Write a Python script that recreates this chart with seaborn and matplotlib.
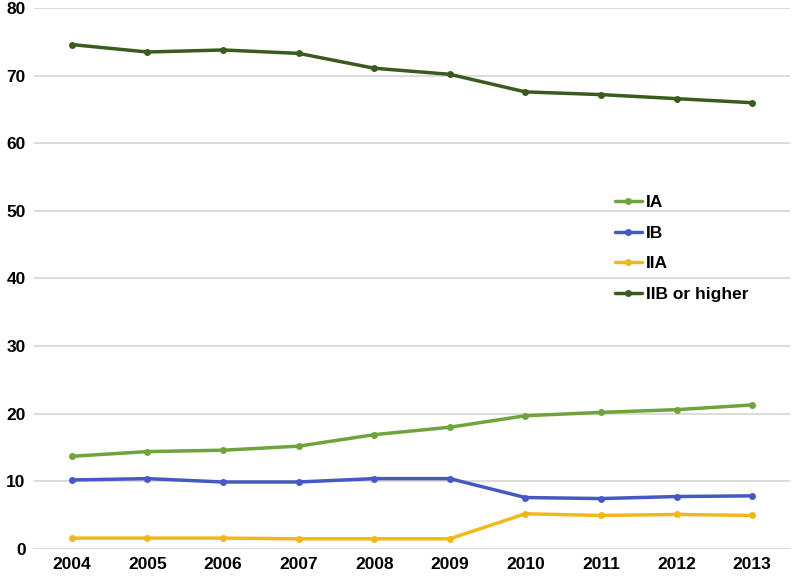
import pandas as pd
import matplotlib.pyplot as plt
import seaborn as sns

# Data
years = ["2004", "2005", "2006", "2007", "2008", "2009", "2010", "2011", "2012", "2013"]
stage_ia = [13.7, 14.4, 14.6, 15.2, 16.9, 18.0, 19.7, 20.2, 20.6, 21.3]
stage_ib = [10.2, 10.4, 9.9, 9.9, 10.4, 10.4, 7.6, 7.45, 7.75, 7.85]
stage_iia = [1.6, 1.6, 1.6, 1.5, 1.5, 1.5, 5.2, 4.95, 5.1, 4.95]
stage_iib = [74.6, 73.5, 73.8, 73.3, 71.1, 70.2, 67.6, 67.2, 66.6, 66.0]

labels = ["IA", "IB", "IIA", "IIB or higher"]
colors = ["#6fa33d", "#4658c4", "#f0b81a", "#3b5a1e"]

df = pd.concat([
    pd.DataFrame({"year": years, "value": vals, "stage": lab})
    for lab, vals in zip(labels, [stage_ia, stage_ib, stage_iia, stage_iib])
])
df["x"] = df["year"].map({y: i for i, y in enumerate(years)})

sns.set_style("white")
plt.rcParams["font.family"] = ["Liberation Sans", "DejaVu Sans"]
plt.rcParams["text.color"] = "black"

fig = plt.figure(figsize=(8, 5.76), dpi=100)
ax = fig.add_axes([0.0425, 0.047, 0.945, 0.939])

sns.lineplot(data=df, x="x", y="value", hue="stage", hue_order=labels,
             palette=colors, marker="o", markersize=5, markeredgewidth=0,
             linewidth=2.5, ax=ax)

ax.set_xlim(-0.5, len(years) - 0.5)
ax.set_ylim(0, 80)
ax.set_xticks(range(len(years)))
ax.set_xticklabels(years)
ax.set_yticks(range(0, 81, 10))
ax.yaxis.grid(True, color="#d9d9d9", linewidth=1.3)
ax.set_axisbelow(True)
for s in ax.spines.values():
    s.set_visible(False)
ax.tick_params(axis="both", length=0, labelsize=12.5, pad=6, labelcolor="black")
for t in ax.get_xticklabels() + ax.get_yticklabels():
    t.set_fontweight("bold")
ax.set_xlabel("")
ax.set_ylabel("")

leg = ax.legend(loc="upper left", bbox_to_anchor=(0.768, 0.655), frameon=False,
                borderaxespad=0, borderpad=0, handlelength=1.6, handletextpad=0.2,
                labelspacing=0.9, prop={"size": 12.5, "weight": "bold"})
for t in leg.get_texts():
    t.set_color("black")

fig.savefig("out.png", dpi=100)
